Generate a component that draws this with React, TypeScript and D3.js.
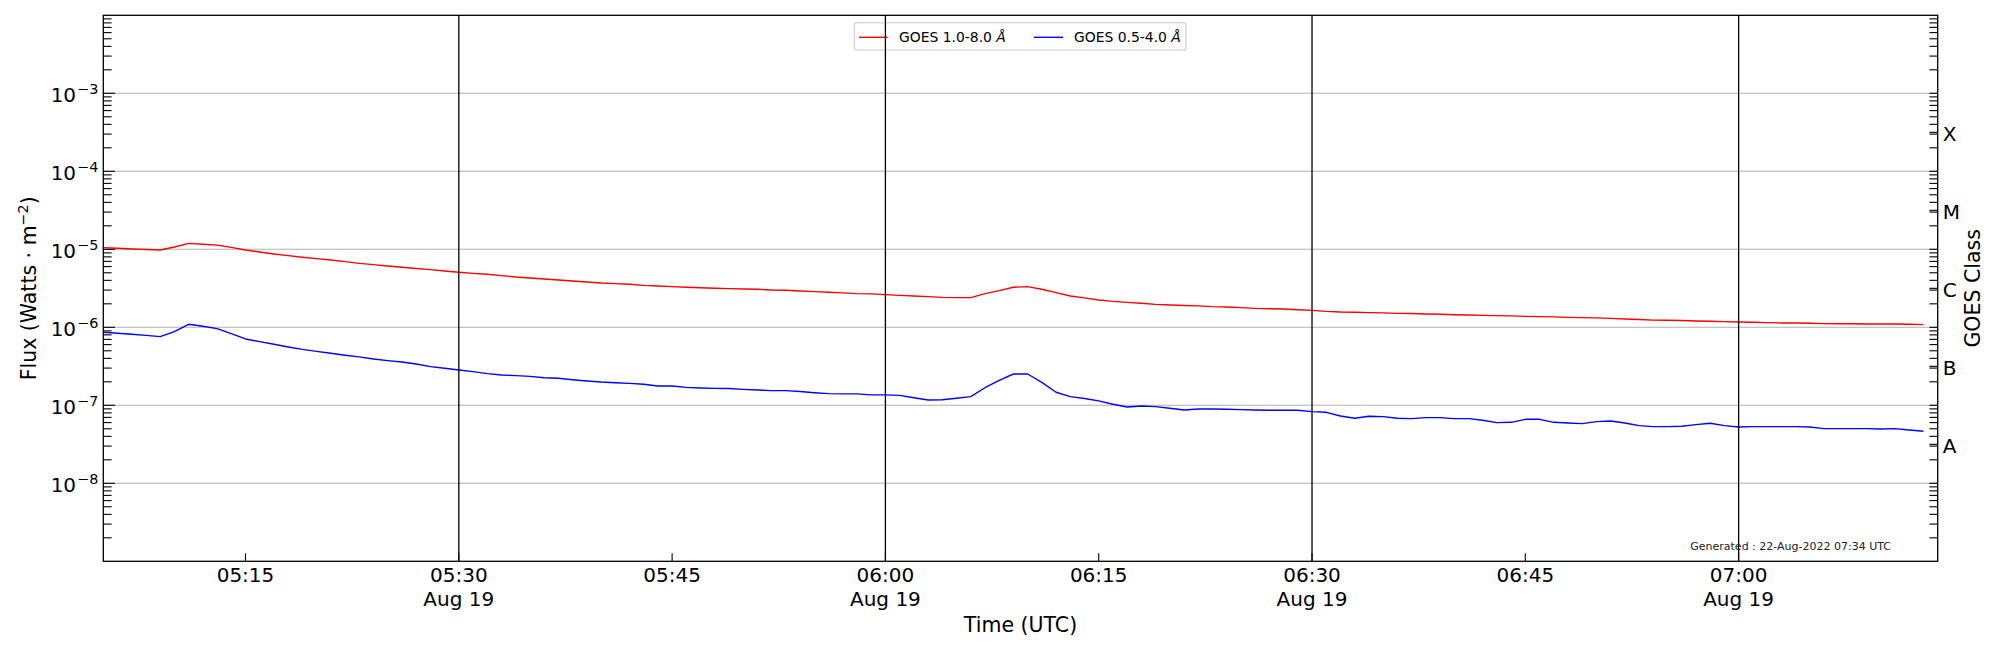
import * as d3 from "d3";
import React from "react";

// GOES XRS, 19 Aug 2022, one sample per minute from 05:05 UTC
const startTime = new Date(Date.UTC(2022, 7, 19, 5, 5));
const endTime = new Date(Date.UTC(2022, 7, 19, 7, 14));
const cadenceMin = 1;

// 1.0-8.0 Å channel, in 1e-6 W m^-2
const longChannel = [
  10.5, 10.3, 10.1, 9.95, 9.8, 10.7, 11.9, 11.6, 11.3, 10.6,
  9.8, 9.24, 8.71, 8.29, 7.9, 7.59, 7.3, 6.95, 6.61, 6.36,
  6.11, 5.88, 5.68, 5.49, 5.28, 5.07, 4.92, 4.78, 4.6, 4.42,
  4.29, 4.17, 4.04, 3.93, 3.81, 3.7, 3.63, 3.56, 3.45, 3.39,
  3.32, 3.26, 3.22, 3.16, 3.13, 3.1, 3.07, 3.01, 2.98, 2.92,
  2.87, 2.81, 2.76, 2.7, 2.68, 2.62, 2.57, 2.52, 2.47, 2.42,
  2.4, 2.4, 2.7, 2.95, 3.26, 3.32, 3.07, 2.78, 2.52, 2.38,
  2.24, 2.15, 2.09, 2.03, 1.97, 1.93, 1.9, 1.88, 1.84, 1.82,
  1.79, 1.75, 1.73, 1.72, 1.68, 1.65, 1.6, 1.57, 1.56, 1.54,
  1.53, 1.51, 1.5, 1.48, 1.47, 1.45, 1.44, 1.42, 1.41, 1.4,
  1.38, 1.37, 1.36, 1.34, 1.33, 1.32, 1.3, 1.28, 1.26, 1.235,
  1.23, 1.22, 1.206, 1.194, 1.182, 1.17, 1.159, 1.148, 1.137, 1.135,
  1.125, 1.114, 1.11, 1.11, 1.103, 1.1, 1.1, 1.093, 1.082,
];

// 0.5-4.0 Å channel, in 1e-8 W m^-2
const shortChannel = [
  86.3, 83.8, 81.3, 78.9, 75.9, 88.0, 109.3, 103.0, 96.1, 83.0,
  70.9, 65.5, 60.6, 56.0, 52.2, 49.2, 46.4, 43.8, 41.7, 39.3,
  37.4, 35.9, 33.9, 31.3, 29.8, 28.4, 27.0, 25.5, 24.5, 24.0,
  23.5, 22.6, 22.2, 21.3, 20.5, 19.9, 19.5, 19.1, 18.6, 17.7,
  17.7, 17.0, 16.7, 16.5, 16.4, 16.0, 15.7, 15.4, 15.4, 15.0,
  14.5, 14.1, 14.0, 14.0, 13.6, 13.6, 13.4, 12.5, 11.7, 11.8,
  12.3, 12.9, 16.8, 20.9, 25.2, 25.2, 19.7, 14.7, 12.9, 12.2,
  11.4, 10.3, 9.52, 9.81, 9.61, 9.15, 8.71, 8.97, 8.97, 8.88,
  8.8, 8.71, 8.63, 8.63, 8.63, 8.3, 8.13, 7.3, 6.81, 7.23,
  7.16, 6.81, 6.75, 6.95, 6.95, 6.75, 6.75, 6.42, 5.99, 6.05,
  6.61, 6.61, 6.05, 5.94, 5.82, 6.17, 6.3, 5.94, 5.49, 5.33,
  5.33, 5.38, 5.65, 5.88, 5.49, 5.28, 5.33, 5.33, 5.33, 5.33,
  5.28, 5.02, 5.02, 5.02, 5.02, 4.97, 5.02, 4.83, 4.64,
];

const markerTimes = ["05:30", "06:00", "06:30", "07:00"];
const labelDecades = [-8, -7, -6, -5, -4, -3];
const allDecades = [-9, -8, -7, -6, -5, -4, -3];
const classLabels = ["A", "B", "C", "M", "X"];
const classFlux = [3.16e-8, 3.16e-7, 3.16e-6, 3.16e-5, 3.16e-4];
const generatedText = "Generated : 22-Aug-2022 07:34 UTC";

const W = 2000, H = 650;
const m = { left: 103.3, right: 62.3, top: 15.3, bottom: 88.7 };
const font = "DejaVu Sans, sans-serif";
const tickFont = 20;

const hm = (s: string) => {
  const [h, mm] = s.split(":").map(Number);
  return new Date(Date.UTC(2022, 7, 19, h, mm));
};

export default function App() {
  const x = d3.scaleUtc().domain([startTime, endTime]).range([m.left, W - m.right]);
  const y = d3.scaleLog().domain([1e-9, 1e-2]).range([H - m.bottom, m.top]);
  const x0 = m.left, x1 = W - m.right, y0 = m.top, y1 = H - m.bottom;

  const t = (i: number) => new Date(startTime.getTime() + i * cadenceMin * 60000);
  const line = d3.line<number>().x((_, i) => x(t(i))).y(d => y(d));
  const longPath = line(longChannel.map(v => v * 1e-6))!;
  const shortPath = line(shortChannel.map(v => v * 1e-8))!;

  const minor: number[] = [];
  allDecades.forEach(p => { for (let k = 2; k <= 9; k++) minor.push(k * Math.pow(10, p)); });
  const xticks = d3.utcMinute.every(15)!.range(startTime, endTime);
  const fmt = d3.utcFormat("%H:%M");

  return (
    <svg width={W} height={H} style={{ position: "absolute", left: 0, top: 0, background: "#fff" }} fontFamily={font}>
      <defs>
        <clipPath id="plot"><rect x={x0} y={y0} width={x1 - x0} height={y1 - y0} /></clipPath>
      </defs>
      <rect x={0} y={0} width={W} height={H} fill="#fff" />
      {/* grid */}
      {labelDecades.map(p => (
        <line key={p} x1={x0} x2={x1} y1={y(Math.pow(10, p))} y2={y(Math.pow(10, p))} stroke="#b0b0b0" strokeWidth={1.1} />
      ))}
      <g clipPath="url(#plot)" fill="none" strokeWidth={1.4} strokeLinejoin="round">
        <path d={longPath} stroke="#ff0000" />
        <path d={shortPath} stroke="#0000ff" />
      </g>
      {/* legend */}
      <g>
        <rect x={854.3} y={22.7} width={331.7} height={27.3} rx={2.8} fill="#fff" fillOpacity={0.8} stroke="#cccccc" strokeWidth={1.1} />
        <line x1={859} x2={887.7} y1={37.3} y2={37.3} stroke="#ff0000" strokeWidth={1.4} />
        <text x={899} y={42.3} fontSize={13.9}>GOES 1.0-8.0 <tspan fontStyle="italic">Å</tspan></text>
        <line x1={1034} x2={1063} y1={37.3} y2={37.3} stroke="#0000ff" strokeWidth={1.4} />
        <text x={1074} y={42.3} fontSize={13.9}>GOES 0.5-4.0 <tspan fontStyle="italic">Å</tspan></text>
      </g>
      {/* marker lines */}
      {markerTimes.map(s => (
        <line key={s} x1={x(hm(s))} x2={x(hm(s))} y1={y0} y2={y1} stroke="#000" strokeWidth={1.3} />
      ))}
      {/* left axis ticks */}
      {allDecades.filter(p => p > -9).map(p => (
        <line key={"M" + p} x1={x0} x2={x0 + 11.7} y1={y(Math.pow(10, p))} y2={y(Math.pow(10, p))} stroke="#000" strokeWidth={1.1} />
      ))}
      {minor.map((v, i) => (
        <line key={"m" + i} x1={x0} x2={x0 + 8.3} y1={y(v)} y2={y(v)} stroke="#000" strokeWidth={1.1} />
      ))}
      {labelDecades.map(p => (
        <text key={"l" + p} x={98.3} y={y(Math.pow(10, p)) + 8.7} textAnchor="end" fontSize={tickFont}>
          10<tspan dx={1} dy={-7.8} fontSize={14.4}>{"\u2212" + Math.abs(p)}</tspan>
        </text>
      ))}
      {/* right axis ticks */}
      {minor.concat(allDecades.filter(p => p > -9).map(p => Math.pow(10, p)), classFlux).map((v, i) => (
        <line key={"r" + i} x1={x1 - 8.3} x2={x1} y1={y(v)} y2={y(v)} stroke="#000" strokeWidth={1.1} />
      ))}
      {classLabels.map((c, i) => (
        <text key={c} x={1942.7} y={y(classFlux[i]) + 9} fontSize={tickFont}>{c}</text>
      ))}
      {/* bottom axis */}
      {xticks.map(d => (
        <g key={d.getTime()}>
          <line x1={x(d)} x2={x(d)} y1={y1} y2={y1 - 8} stroke="#000" strokeWidth={1.1} />
          <text x={x(d)} y={581.9} textAnchor="middle" fontSize={tickFont}>{fmt(d)}</text>
          {d.getUTCMinutes() % 30 === 0 && (
            <text x={x(d)} y={605.5} textAnchor="middle" fontSize={tickFont}>{d3.utcFormat("%b %-d")(d)}</text>
          )}
        </g>
      ))}
      {/* frame */}
      <rect x={x0} y={y0} width={x1 - x0} height={y1 - y0} fill="none" stroke="#000" strokeWidth={1.3} />
      <text x={1891} y={549.5} textAnchor="end" fontSize={11} fill="#222">{generatedText}</text>
      {/* axis labels */}
      <text x={(x0 + x1) / 2} y={632} textAnchor="middle" fontSize={20.5}>Time (UTC)</text>
      <text transform={`translate(35.5,${(y0 + y1) / 2}) rotate(-90)`} textAnchor="middle" fontSize={20.5}>
        Flux (Watts · m<tspan dy={-7.5} fontSize={14.3}>{"\u22122"}</tspan><tspan dy={7.5}>)</tspan>
      </text>
      <text transform={`translate(1979.5,${(y0 + y1) / 2}) rotate(-90)`} textAnchor="middle" fontSize={20.5}>GOES Class</text>
    </svg>
  );
}
